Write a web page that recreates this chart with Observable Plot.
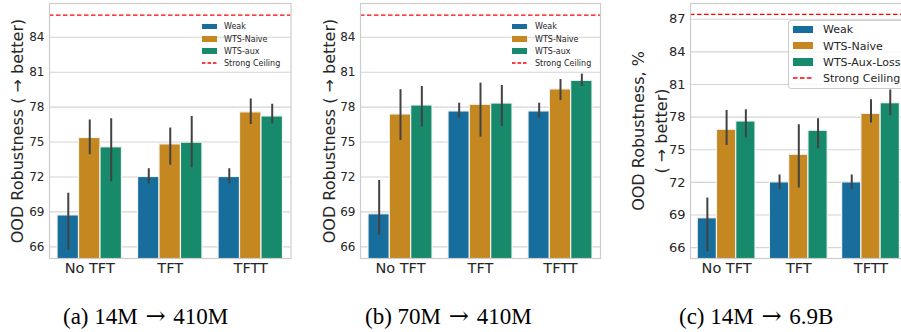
<!DOCTYPE html>
<html><head><meta charset="utf-8">
<script src="https://cdn.jsdelivr.net/npm/d3@7"></script>
<script src="https://cdn.jsdelivr.net/npm/@observablehq/plot@0.6"></script>
<style>
body{margin:0;background:#fff;}
#root{position:relative;width:901px;height:332px;overflow:hidden;background:#fff;font-family:"DejaVu Sans",sans-serif;color:#262626;}
.panel{position:absolute;top:0;}
.cap{position:absolute;font-family:"Liberation Serif",serif;font-size:23px;white-space:nowrap;color:#000;line-height:1;}
.cap .ar{font-family:"DejaVu Serif",serif;font-size:24px;margin:0 2px;}
.leg{position:absolute;}
.leg .t{position:absolute;white-space:nowrap;color:#262626;line-height:1;}
</style></head><body><div id="root"></div><script>
// ---------- data ----------
const groups = ["No TFT", "TFT", "TFTT"];
const methods = ["Weak", "WTS-Naive", "WTS-aux"];
const methodsC = ["Weak", "WTS-Naive", "WTS-Aux-Loss"];
const ceilingLabel = "Strong Ceiling";
const colors = ["#176d9c", "#c58820", "#168a6a"];

const yTicksAB = [66, 69, 72, 75, 78, 81, 84];
const yTicksC = [66, 69, 72, 75, 78, 81, 84, 87];

// panel (a) 14M -> 410M ; rows = methods, columns = groups
const aMean = [[68.7, 72.0, 72.0], [75.35, 74.8, 77.55], [74.55, 74.95, 77.2]];
const aLo   = [[65.7, 71.4, 71.4], [73.9, 73.0, 76.5], [71.6, 72.8, 76.55]];
const aHi   = [[70.6, 72.7, 72.7], [76.9, 76.2, 78.7], [77.0, 77.2, 78.25]];
const aCeiling = 85.9;

// panel (b) 70M -> 410M
const bMean = [[68.8, 77.63, 77.63], [77.37, 78.2, 79.52], [78.14, 78.31, 80.26]];
const bLo   = [[67.0, 77.06, 77.06], [75.14, 75.43, 78.57], [76.3, 76.34, 79.77]];
const bHi   = [[71.7, 78.34, 78.34], [79.5, 80.06, 80.37], [79.77, 79.86, 80.83]];
const bCeiling = 85.9;

// panel (c) 14M -> 6.9B
const cMean = [[68.7, 72.0, 72.0], [76.84, 74.54, 78.3], [77.6, 76.75, 79.28]];
const cLo   = [[65.63, 71.33, 71.33], [75.4, 71.48, 77.45], [76.07, 75.1, 78.13]];
const cHi   = [[70.57, 72.67, 72.67], [78.6, 77.3, 79.6], [78.67, 77.85, 80.5]];
const cCeiling = 87.45;

const yLabelAB = "OOD Robustness ( \u2192 better)";
const yLabelC = "OOD Robustness, %\n( \u2192 better)";
const captionParts = [["(a) 14M ", " 410M"], ["(b) 70M ", " 410M"], ["(c) 14M ", " 6.9B"]];
const arrow = "\u2192";

// ---------- drawing ----------
const root = document.getElementById("root");

function rowsFor(mean, lo, hi) {
  const w = 0.8 / methods.length;
  const rows = [];
  methods.forEach((m, j) => groups.forEach((g, i) => {
    const x1 = i - 0.4 + j * w;
    rows.push({m, g, value: mean[j][i], lo: lo[j][i], hi: hi[j][i], x1, x2: x1 + w, xc: x1 + w / 2});
  }));
  return rows;
}

function panel(o) {
  const rows = rowsFor(o.mean, o.lo, o.hi);
  const chart = Plot.plot({
    width: o.width, height: 280,
    marginLeft: o.ml, marginRight: o.mr, marginTop: 3, marginBottom: 22,
    x: {domain: [-0.5, groups.length - 0.5], axis: null},
    y: {domain: [65, o.ceiling + 1], axis: null},
    color: {domain: methods, range: colors},
    style: {background: "transparent", fontFamily: "DejaVu Sans", color: "#262626", overflow: "visible"},
    marks: [
      Plot.gridY(o.yTicks, {stroke: "#d4d4d4", strokeOpacity: 1, strokeWidth: 1.1}),
      Plot.rect(rows, {x1: "x1", x2: "x2", y1: 0, y2: "value", fill: "m", stroke: "#f2f2f2", strokeWidth: 1.2, clip: true}),
      Plot.ruleX(rows, {x: "xc", y1: "lo", y2: "hi", stroke: "#424242", strokeWidth: 2, clip: true}),
      Plot.ruleY([o.ceiling], {stroke: "#ff0000", strokeWidth: 1.3, strokeDasharray: "4.5,2.5"}),
      Plot.frame({stroke: "#cccccc", strokeWidth: 1.2}),
      Plot.axisY({ticks: o.yTicks, tickSize: 0, tickPadding: 5, fontSize: o.yFont, label: null, fill: "#262626"}),
      Plot.axisX({ticks: groups.map((_, i) => i), tickFormat: i => groups[i], tickSize: 0, tickPadding: 4, fontSize: 14.5, label: null, fill: "#262626"}),
      Plot.text([o.ylabel], {text: d => d, frameAnchor: "left", textAnchor: "middle", lineAnchor: "middle", rotate: -90, dx: o.ldx, fontSize: 16, lineHeight: 1.4, fill: "#262626"})
    ]
  });
  chart.classList.add("panel");
  chart.style.left = o.left + "px";
  root.appendChild(chart);
}

panel({left: 0, width: 300, ml: 49, mr: 9.5, mean: aMean, lo: aLo, hi: aHi, ceiling: aCeiling, yTicks: yTicksAB, yFont: 12, ylabel: yLabelAB, ldx: -34});
panel({left: 300, width: 301, ml: 60, mr: 1, mean: bMean, lo: bLo, hi: bHi, ceiling: bCeiling, yTicks: yTicksAB, yFont: 12, ylabel: yLabelAB, ldx: -33});
panel({left: 600, width: 310, ml: 90, mr: 3.4, mean: cMean, lo: cLo, hi: cHi, ceiling: cCeiling, yTicks: yTicksC, yFont: 13, ylabel: yLabelC, ldx: -42});

function legend(o) {
  const labels = o.labels.concat([ceilingLabel]);
  if (o.box) {
    const b = document.createElement("div");
    b.className = "leg";
    Object.assign(b.style, {left: o.box[0] + "px", top: o.box[1] + "px", width: o.box[2] + "px", height: o.box[3] + "px",
      background: "rgba(255,255,255,0.8)", border: "1px solid #cccccc", borderRadius: "3px", boxSizing: "border-box"});
    root.appendChild(b);
  }
  labels.forEach((lab, k) => {
    const cy = o.y0 + k * o.dy;
    if (k < o.labels.length) {
      const p = document.createElement("div");
      p.className = "leg";
      Object.assign(p.style, {left: o.px + "px", top: (cy - o.ph / 2) + "px", width: o.pw + "px", height: o.ph + "px", background: colors[k]});
      root.appendChild(p);
    } else {
      const ns = "http://www.w3.org/2000/svg";
      const s = document.createElementNS(ns, "svg");
      s.setAttribute("width", o.pw); s.setAttribute("height", 4);
      s.setAttribute("class", "leg");
      s.style.left = o.px + "px"; s.style.top = (cy - 2) + "px";
      const l = document.createElementNS(ns, "line");
      l.setAttribute("x1", 0); l.setAttribute("x2", o.pw); l.setAttribute("y1", 2); l.setAttribute("y2", 2);
      l.setAttribute("stroke", "#ff0000"); l.setAttribute("stroke-width", 1.3);
      l.setAttribute("stroke-dasharray", o.dash);
      s.appendChild(l);
      root.appendChild(s);
    }
    const t = document.createElement("div");
    t.className = "leg t";
    t.textContent = lab;
    Object.assign(t.style, {left: o.tx + "px", top: (cy - o.fs * 0.55) + "px", fontSize: o.fs + "px"});
    root.appendChild(t);
  });
}

legend({labels: methods, px: 201.7, pw: 15, ph: 5.5, y0: 26.7, dy: 12.2, tx: 224, fs: 8, dash: "3.5,2"});
legend({labels: methods, px: 511.7, pw: 15, ph: 5.5, y0: 26.7, dy: 12.2, tx: 535, fs: 8, dash: "3.5,2"});
legend({labels: methodsC, px: 793, pw: 20, ph: 7.5, y0: 29.3, dy: 16.3, tx: 823, fs: 11, dash: "4.5,2.5", box: [788, 20, 130, 68.5]});

const capLeft = [63, 365, 679];
captionParts.forEach((parts, i) => {
  const d = document.createElement("div");
  d.className = "cap";
  d.appendChild(document.createTextNode(parts[0]));
  const a = document.createElement("span");
  a.className = "ar";
  a.textContent = arrow;
  d.appendChild(a);
  d.appendChild(document.createTextNode(parts[1]));
  d.style.left = capLeft[i] + "px";
  d.style.top = "303.5px";
  root.appendChild(d);
});
</script></body></html>
